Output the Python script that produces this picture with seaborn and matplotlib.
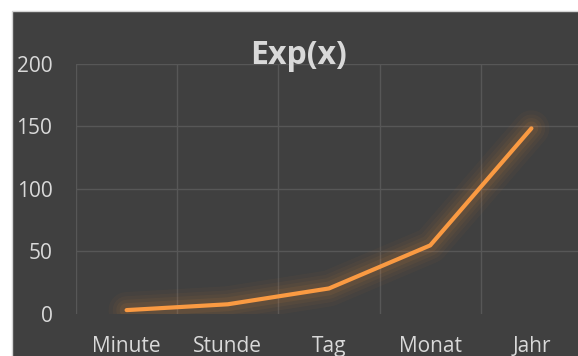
import matplotlib
matplotlib.use("Agg")
import matplotlib.pyplot as plt
from matplotlib.patches import Rectangle
import pandas as pd
import seaborn as sns

# Data
categories = ["Minute", "Stunde", "Tag", "Monat", "Jahr"]
values = [2.72, 7.39, 20.09, 54.60, 148.41]
y_ticks = [0, 50, 100, 150, 200]
title = "Exp(x)"

df = pd.DataFrame({"Zeit": categories, "Wert": values})

sns.set_theme(style="dark")
plt.rcParams["font.family"] = ["Open Sans", "DejaVu Sans"]

W, H = 578, 356
fig = plt.figure(figsize=(W / 100, H / 100), dpi=100, facecolor="white")

# dark chart area with thin light border
bg = "#404040"
fig.patches.append(Rectangle((12.5 / W, -0.1), 1.2, 1.1 - 10.5 / H,
                             transform=fig.transFigure, facecolor=bg,
                             edgecolor="#d4d4d4", linewidth=1.0, zorder=-10))

ax = fig.add_axes([76 / W, (H - 313.5) / H, (582 - 76) / W, (313.5 - 64) / H])
ax.set_facecolor(bg)
ax.patch.set_alpha(0)

line_color = "#FA9A42"

# soft glow under the line
for lw, a in [(26, 0.04), (20, 0.05), (15, 0.06), (10, 0.09)]:
    sns.lineplot(data=df, x="Zeit", y="Wert", ax=ax, color="#E08A3C",
                 linewidth=lw, alpha=a, sort=False, legend=False,
                 solid_capstyle="round", solid_joinstyle="round")

sns.lineplot(data=df, x="Zeit", y="Wert", ax=ax, color=line_color,
             linewidth=3.0, sort=False, legend=False,
             solid_capstyle="round", solid_joinstyle="round")

ax.set_xlim(-0.5, len(categories) - 0.5)
ax.set_ylim(y_ticks[0], y_ticks[-1])
ax.set_yticks(y_ticks)
ax.set_xticks(range(len(categories)))
ax.set_xticklabels(categories)
ax.set_xticks([i - 0.5 for i in range(len(categories) + 1)], minor=True)

grid_color = "#575757"
ax.grid(False)
ax.yaxis.grid(True, which="major", color=grid_color, linewidth=1.0)
ax.xaxis.grid(True, which="minor", color=grid_color, linewidth=1.0)
ax.set_axisbelow(True)
# the baseline gridline stays hidden under the glow
ax.yaxis.get_gridlines()[0].set_visible(False)

for s in ax.spines.values():
    s.set_visible(False)

text_color = "#D9D9D9"
ax.tick_params(axis="both", which="both", length=0, colors=text_color,
               labelsize=15)
ax.tick_params(axis="y", pad=17)
ax.tick_params(axis="x", pad=16)
ax.set_xlabel("")
ax.set_ylabel("")

fig.text(298.5 / W, 1 - 56 / H, title, ha="center", va="center",
         color=text_color, fontsize=23, fontweight="bold")

fig.savefig("out.png", dpi=100, facecolor="white")
